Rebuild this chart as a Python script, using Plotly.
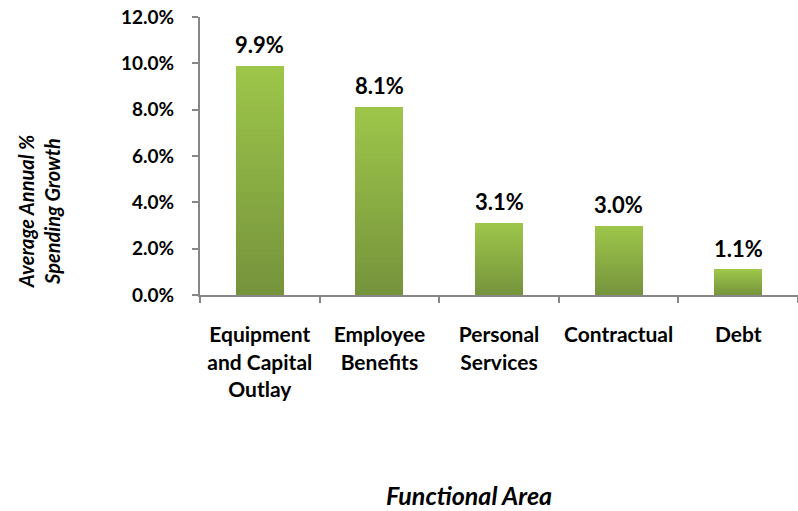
import plotly.graph_objects as go

# Average annual spending growth by functional area (percent)
categories = ["Equipment<br>and Capital<br>Outlay", "Employee<br>Benefits",
              "Personal<br>Services", "Contractual", "Debt"]
growth = [9.9, 8.1, 3.1, 3.0, 1.1]
y_ticks = [0, 2, 4, 6, 8, 10, 12]

# vertical gradient of each bar: dark olive at the base, light green at the top
BOTTOM = (0x76, 0x93, 0x3C)
TOP = (0x9D, 0xC6, 0x4A)
STEPS = 40

def mix(t):
    r, g, b = (round(a + (c - a) * t) for a, c in zip(BOTTOM, TOP))
    return f"rgb({r},{g},{b})"

fig = go.Figure()
for i in range(STEPS):
    fig.add_trace(go.Bar(
        x=categories,
        y=[v / STEPS for v in growth],
        marker=dict(color=mix((i + 0.5) / STEPS), line=dict(width=0)),
        width=0.4,
        hoverinfo="skip",
        showlegend=False,
    ))

# value labels above the bars
value_labels = [
    dict(x=c, y=v, xref="x", yref="y", text=f"{v:.1f}%", showarrow=False,
         yanchor="bottom", yshift=6,
         font=dict(family="Lato", size=22, color="#000000", weight="bold"))
    for c, v in zip(categories, growth)
]

axis_color = "#878787"
fig.update_layout(
    width=798,
    height=511,
    margin=dict(l=200, r=0, t=17, b=216),
    paper_bgcolor="white",
    plot_bgcolor="white",
    barmode="stack",
    bargap=0.6,
    font=dict(family="Lato", color="#000000"),
    xaxis=dict(
        showline=True, linecolor=axis_color, linewidth=2,
        ticks="outside", tickson="boundaries", ticklen=6, tickcolor=axis_color, tickwidth=2,
        tickfont=dict(family="Lato", size=21, weight="bold"),
        ticklabelstandoff=20,
        showgrid=False, zeroline=False,
    ),
    yaxis=dict(
        range=[0, 12], tickvals=y_ticks,
        ticktext=[f"{t:.1f}%" for t in y_ticks],
        showline=True, linecolor=axis_color, linewidth=2,
        ticks="outside", ticklen=6, tickcolor=axis_color, tickwidth=2,
        tickfont=dict(family="Lato", size=19, weight="bold"),
        ticklabelstandoff=14,
        showgrid=False, zeroline=False,
    ),
    annotations=value_labels + [
        dict(text="<i>Average Annual %<br>Spending Growth</i>",
             xref="paper", yref="paper", x=-0.27, y=0.30, textangle=-90,
             xanchor="center", yanchor="middle",
             showarrow=False, align="center",
             font=dict(family="Lato", size=20, weight="bold")),
        dict(text="<i>Functional Area</i>",
             xref="paper", yref="paper", x=0.45, y=-0.78,
             showarrow=False,
             font=dict(family="Lato", size=25, weight="bold")),
    ],
)

fig.write_html("out.html")
